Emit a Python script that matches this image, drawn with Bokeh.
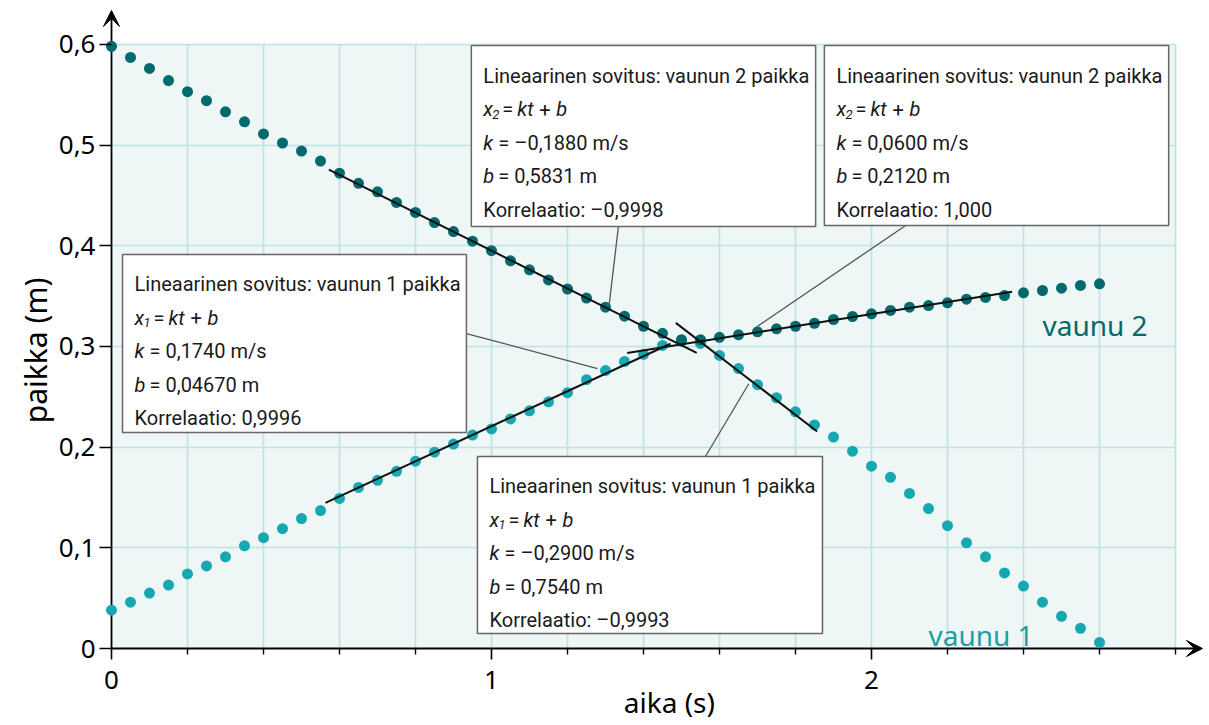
import math
from bokeh.plotting import figure
from bokeh.models import Range1d, FixedTicker, BoxAnnotation, Arrow, VeeHead, Grid, Label
from bokeh.core.properties import value
from bokeh.embed import file_html
from bokeh.resources import INLINE

# ---------------- data ----------------
t = [0.00, 0.05, 0.10, 0.15, 0.20, 0.25, 0.30, 0.35, 0.40, 0.45,
     0.50, 0.55, 0.60, 0.65, 0.70, 0.75, 0.80, 0.85, 0.90, 0.95,
     1.00, 1.05, 1.10, 1.15, 1.20, 1.25, 1.30, 1.35, 1.40, 1.45,
     1.50, 1.55, 1.60, 1.65, 1.70, 1.75, 1.80, 1.85, 1.90, 1.95,
     2.00, 2.05, 2.10, 2.15, 2.20, 2.25, 2.30, 2.35, 2.40, 2.45,
     2.50, 2.55, 2.60]

vaunu1 = [0.038, 0.046, 0.055, 0.063, 0.074, 0.082, 0.091, 0.102, 0.110, 0.119,
          0.129, 0.137, 0.149, 0.160, 0.167, 0.176, 0.186, 0.195, 0.203, 0.212,
          0.218, 0.228, 0.236, 0.245, 0.254, 0.267, 0.276, 0.285, 0.292, 0.301,
          0.305, 0.303, 0.291, 0.278, 0.262, 0.249, 0.235, 0.222, 0.210, 0.196,
          0.181, 0.170, 0.154, 0.139, 0.122, 0.105, 0.091, 0.075, 0.062, 0.046,
          0.032, 0.020, 0.006]

vaunu2 = [0.598, 0.587, 0.576, 0.564, 0.553, 0.544, 0.533, 0.523, 0.511, 0.502,
          0.494, 0.484, 0.472, 0.462, 0.4535, 0.443, 0.433, 0.423, 0.414, 0.4045,
          0.395, 0.385, 0.376, 0.366, 0.357, 0.348, 0.339, 0.330, 0.320, 0.313,
          0.3066, 0.3066, 0.309, 0.3115, 0.3145, 0.3175, 0.320, 0.323, 0.3267, 0.3297,
          0.3323, 0.3357, 0.339, 0.3406, 0.3433, 0.3469, 0.3486, 0.3505, 0.3532, 0.3555,
          0.3578, 0.3605, 0.3622]

# linear fits: box A (vaunu 2 before), box B (vaunu 2 after),
#              box C (vaunu 1 before), box D (vaunu 1 after)
fit_car = [2, 2, 1, 1]
fit_k = [-0.1880, 0.0600, 0.1740, -0.2900]
fit_b = [0.5831, 0.2120, 0.04670, 0.7540]
fit_r = [-0.9998, 1.000, 0.9996, -0.9993]
fit_t0 = [0.572, 1.357, 0.563, 1.485]
fit_t1 = [1.540, 2.370, 1.471, 1.857]

x_major = [0, 1, 2]
x_major_labels = ["0", "1", "2"]
x_minor = [0.2, 0.4, 0.6, 0.8, 1.2, 1.4, 1.6, 1.8, 2.2, 2.4, 2.6, 2.8]
x_grid = [0.2, 0.4, 0.6, 0.8, 1.0, 1.2, 1.4, 1.6, 1.8, 2.0, 2.2, 2.4, 2.6, 2.8]
y_ticks = [0, 0.1, 0.2, 0.3, 0.4, 0.5, 0.6]
y_tick_labels = ["0", "0,1", "0,2", "0,3", "0,4", "0,5", "0,6"]
y_grid = [0.1, 0.2, 0.3, 0.4, 0.5, 0.6]

# ---------------- layout ----------------
SX, SY = 380.0, 1007.0           # pixels per data unit
W, H = 1208, 724
OX, OY = 111, 648                # pixel position of the origin
X0 = -OX / SX
X1 = (W - OX) / SX
Y0 = -(H - OY) / SY
Y1 = OY / SY

DARK = "#006a6c"
LIGHT = "#16a8b1"
BOXFONT = "Roboto"
AXFONT = "Noto Sans"

p = figure(width=W, height=H, output_backend="svg", toolbar_location=None,
           x_range=Range1d(X0, X1), y_range=Range1d(Y0, Y1),
           min_border_left=0, min_border_right=0, min_border_top=0,
           min_border_bottom=0, outline_line_color=None,
           background_fill_color="white", border_fill_color="white")

# plotting area shading
p.add_layout(BoxAnnotation(left=0, right=2.8, bottom=0, top=0.6,
                           fill_color="#eef6f6", fill_alpha=1.0,
                           line_color=None, level="image"))

# grids
p.xgrid.ticker = FixedTicker(ticks=x_grid)
p.ygrid.ticker = FixedTicker(ticks=y_grid)
for g in (p.xgrid[0], p.ygrid[0]):
    g.grid_line_color = "#c0e2e6"
    g.grid_line_width = 1.7
if "cross_bounds" in Grid.properties():
    p.xgrid[0].cross_bounds = (0, 0.6)
    p.ygrid[0].cross_bounds = (0, 2.8)

# axes (drawn through the origin)
xa = p.xaxis[0]
ya = p.yaxis[0]
xa.fixed_location = 0
ya.fixed_location = 0
xa.ticker = FixedTicker(ticks=x_major, minor_ticks=x_minor)
xa.major_label_overrides = dict(zip(x_major, x_major_labels))
ya.ticker = FixedTicker(ticks=y_ticks)
ya.major_label_overrides = dict(zip(y_ticks, y_tick_labels))
for ax in (xa, ya):
    ax.axis_line_color = None
    ax.major_tick_line_color = "black"
    ax.major_tick_line_width = 1.6
    ax.minor_tick_line_color = "black"
    ax.minor_tick_line_width = 1.4
    ax.major_tick_in = 0
    ax.minor_tick_in = 0
    ax.major_label_text_font = AXFONT
    ax.major_label_text_font_size = "26px"
    ax.major_label_text_color = "black"
xa.major_tick_out = 11
xa.minor_tick_out = 6
xa.major_label_standoff = 11
ya.major_tick_out = 12
ya.minor_tick_out = 0
ya.major_label_standoff = 4

# axis titles
p.add_layout(Label(x=1.468, y=-0.0536, text="aika (s)", text_font=AXFONT,
                   text_font_size="28px", text_color="black",
                   text_align="center", text_baseline="middle"))
p.add_layout(Label(x=-0.20, y=0.296, text="paikka (m)", text_font=AXFONT,
                   text_font_size="30px", text_color="black", angle=math.pi / 2,
                   text_align="center", text_baseline="middle"))

# axis arrows
p.add_layout(Arrow(end=VeeHead(size=16, fill_color="black", line_color="black"),
                   x_start=0, y_start=0, x_end=2.871, y_end=0,
                   line_color="black", line_width=1.8, level="underlay"))
p.add_layout(Arrow(end=VeeHead(size=16, fill_color="black", line_color="black"),
                   x_start=0, y_start=0, x_end=0, y_end=0.6336,
                   line_color="black", line_width=1.8, level="underlay"))

# data points
p.scatter(t, vaunu1, size=11, fill_color=LIGHT, line_color=None)
p.scatter(t, vaunu2, size=11, fill_color=DARK, line_color=None)

# fit lines
for k, b, ta, tb in zip(fit_k, fit_b, fit_t0, fit_t1):
    p.line([ta, tb], [k * ta + b, k * tb + b], line_color="#111111", line_width=2)

# annotation boxes (data-space anchors)
box_l = [0.947, 1.876, 0.029, 0.963]
box_r = [1.853, 2.782, 0.934, 1.871]
box_t = [0.5988, 0.5988, 0.3913, 0.1907]
box_b = [0.4191, 0.4201, 0.2145, 0.0149]
lead_x0 = [1.334, 2.090, 0.934, 1.563]
lead_y0 = [0.4191, 0.4201, 0.3128, 0.1907]
lead_x1 = [1.310, 1.700, 1.279, 1.677]
lead_y1 = [0.3426, 0.3200, 0.2780, 0.2629]

p.segment(lead_x0, lead_y0, lead_x1, lead_y1, line_color="#555555", line_width=1.3)
p.quad(left=box_l, right=box_r, top=box_t, bottom=box_b,
       fill_color="white", line_color="#666666", line_width=1.5)


def fi(v, fmt):
    s = format(v, fmt)
    return s.replace("-", "\u2013").replace(".", ",")


FS = "20px"
TXT = "#1a1a1a"


def txt(x, y, s, italic=False, size=FS):
    p.text([x], [y], text=[s], text_font=value(BOXFONT), text_font_size=size,
           text_font_style="italic" if italic else "normal",
           text_baseline="alphabetic", text_align="left", text_color=TXT)


for i in range(4):
    x = box_l[i] + 12 / SX
    ys = [box_t[i] - (30 + j * 33.5) / SY for j in range(5)]
    dx = lambda px: x + px / SX
    txt(x, ys[0], "Lineaarinen sovitus: vaunun %d paikka" % fit_car[i])
    txt(x, ys[1], "x", italic=True)
    txt(dx(9), ys[1] - 5 / SY, str(fit_car[i]), italic=True, size="13px")
    txt(dx(19), ys[1], "=")
    txt(dx(34), ys[1], "kt", italic=True)
    txt(dx(56), ys[1], "+")
    txt(dx(73), ys[1], "b", italic=True)
    txt(x, ys[2], "k", italic=True)
    txt(dx(15), ys[2], "= " + fi(fit_k[i], ".4f") + " m/s")
    txt(x, ys[3], "b", italic=True)
    txt(dx(15), ys[3], "= " + fi(fit_b[i], "#.4g") + " m")
    txt(x, ys[4], "Korrelaatio: " + fi(fit_r[i], "#.4g"))

# series labels
p.text([2.45], [0.3208], text=["vaunu 2"], text_font=value(AXFONT),
       text_font_size="28px", text_color=DARK, text_baseline="alphabetic")
p.text([2.15], [0.0139], text=["vaunu 1"], text_font=value(AXFONT),
       text_font_size="28px", text_color="#1d9ea6", text_baseline="alphabetic")

open("out.html", "w").write(file_html(p, INLINE))
